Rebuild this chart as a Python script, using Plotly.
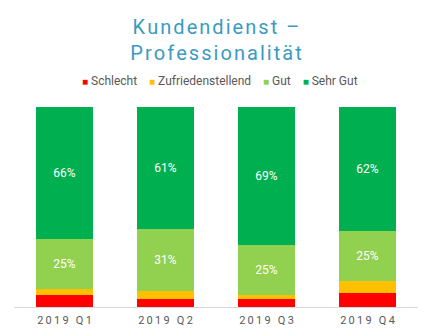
import plotly.graph_objects as go

quarters = ["2019 Q1", "2019 Q2", "2019 Q3", "2019 Q4"]
schlecht = [6, 4, 4, 7]
zufrieden = [3, 4, 2, 6]
gut = [25, 31, 25, 25]
sehr_gut = [66, 61, 69, 62]
title_lines = ["Kundendienst –", "Professionalität"]

series = [
    ("Schlecht", schlecht, "#FF0000", False),
    ("Zufriedenstellend", zufrieden, "#FFC000", False),
    ("Gut", gut, "#92D050", True),
    ("Sehr Gut", sehr_gut, "#00B050", True),
]

def spaced(s, sep="\u200a"):
    return sep.join(s)

tick_labels = [spaced(q, "\u2009") for q in quarters]

fig = go.Figure()
for name, vals, color, show in series:
    fig.add_trace(go.Bar(
        name=name, x=quarters, y=vals, marker_color=color,
        marker_line_width=0,
        text=[f"{v}%" for v in vals] if show else None,
        textposition="inside" if show else "none",
        insidetextanchor="middle",
        textfont=dict(color="white", size=12, family="Roboto"),
        hoverinfo="skip",
        showlegend=False,
    ))

# custom compact legend (built from series names/colours)
legend_parts = []
for name, vals, color, show in series:
    legend_parts.append(
        f"<span style='color:{color};font-size:10px'>■</span>\u00a0{name}"
    )
legend_text = ("\u00a0" * 4).join(legend_parts)
fig.add_annotation(
    text=legend_text, xref="paper", yref="paper", x=0.51, y=1.13,
    xanchor="center", yanchor="middle", showarrow=False,
    font=dict(size=12, color="#595959", family="Roboto"),
)

fig.update_layout(
    barmode="stack",
    bargap=0.445,
    width=433, height=336,
    margin=dict(l=14, r=15, t=107, b=29),
    paper_bgcolor="white", plot_bgcolor="white",
    font=dict(family="Roboto", color="#595959"),
    title=dict(
        text="<br>".join(spaced(t) for t in title_lines),
        x=0.5, xanchor="center", xref="paper", y=0.9, yanchor="top",
        font=dict(size=20, color="#3A9BC1", family="Roboto"),
    ),
    showlegend=False,
)
fig.update_xaxes(
    tickmode="array", tickvals=quarters, ticktext=tick_labels,
    showline=True, linecolor="#D9D9D9", linewidth=1,
    ticks="", tickfont=dict(size=11, color="#595959", family="Roboto"),
    ticklabelstandoff=3, automargin=False,
    showgrid=False,
)
fig.update_yaxes(visible=False, range=[0, 100], automargin=False)

fig.write_html("out.html")
